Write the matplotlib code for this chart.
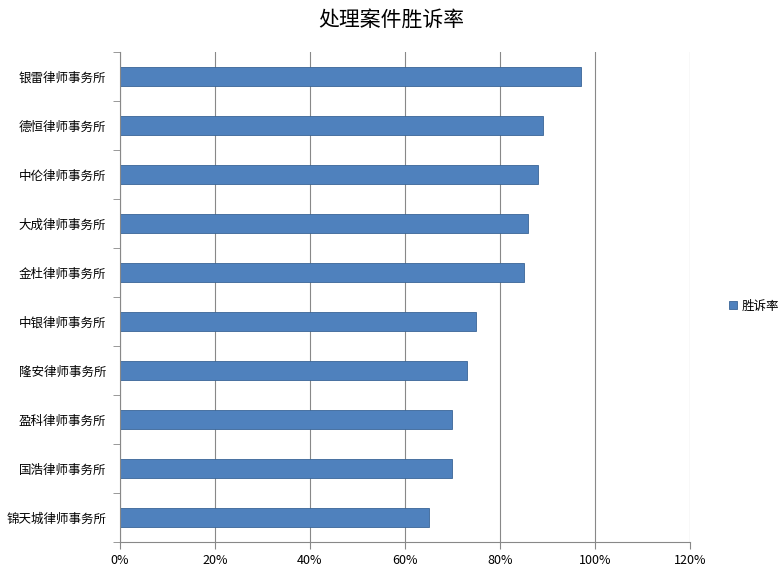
import matplotlib
matplotlib.use("Agg")
import matplotlib.pyplot as plt
from matplotlib.ticker import FixedLocator

plt.rcParams["font.family"] = ["Noto Sans CJK SC", "DejaVu Sans"]

firms = ["银雷律师事务所", "德恒律师事务所", "中伦律师事务所", "大成律师事务所", "金杜律师事务所",
         "中银律师事务所", "隆安律师事务所", "盈科律师事务所", "国浩律师事务所", "锦天城律师事务所"]
rates = [97, 89, 88, 86, 85, 75, 73, 70, 70, 65]
xticks = [0, 20, 40, 60, 80, 100, 120]
xtick_labels = ["0%", "20%", "40%", "60%", "80%", "100%", "120%"]

fig = plt.figure(figsize=(7.82, 5.70), dpi=100)
ax = fig.add_axes([120/782, 28/570, 570/782, 490/570])
n = len(firms)
ypos = list(range(n))[::-1]
ax.barh(ypos, rates, height=0.37, color="#4F81BD", edgecolor="#3A6597", linewidth=0.6, label="胜诉率")
ax.set_xlim(0, 120.01)
ax.set_ylim(-0.5, n - 0.5)
ax.set_xticks(xticks)
ax.set_xticklabels(xtick_labels, fontsize=9)
ax.set_yticks(ypos)
ax.set_yticklabels(firms, fontsize=9)
ax.yaxis.set_minor_locator(FixedLocator([i - 0.5 for i in range(n + 1)]))
ax.tick_params(axis="y", which="major", length=0, pad=10)
ax.tick_params(axis="y", which="minor", length=5, color="#888888")
ax.tick_params(axis="x", length=5, color="#888888")
ax.grid(axis="x", color="#888888", linewidth=0.8)
ax.set_axisbelow(True)
for s in ["top", "right"]:
    ax.spines[s].set_visible(False)
for s in ["left", "bottom"]:
    ax.spines[s].set_color("#888888")
fig.suptitle("处理案件胜诉率", y=0.985, fontsize=15)
fig.legend(loc="center left", bbox_to_anchor=(718/782, 0.463), frameon=False, fontsize=9,
           handlelength=0.6, handleheight=0.6, handletextpad=0.4)
fig.savefig("out.png", dpi=100)
